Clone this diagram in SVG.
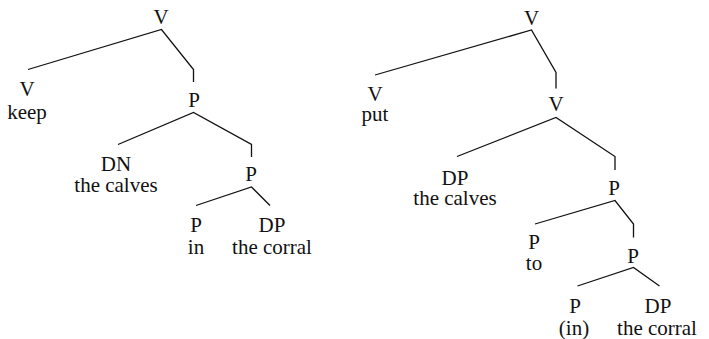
<svg xmlns="http://www.w3.org/2000/svg" width="709" height="339" viewBox="0 0 709 339">
<style>
.t text{font-family:'Liberation Serif','DejaVu Serif','Times New Roman',serif;font-size:21px;fill:#111;text-anchor:middle}
.e{fill:none;stroke:#111;stroke-width:1.3;stroke-linejoin:miter}
</style>
<rect width="709" height="339" fill="#fff"/>
<g id="connectors">
<polyline class="e" points="28,69.5 161.5,29.5 193.5,69.5 193.5,82"/>
<polyline class="e" points="118,144.5 193.5,112.5 251.5,144.5 251.5,157"/>
<polyline class="e" points="196,205.5 251.5,187 270,205.5"/>
<polyline class="e" points="375,75 531.5,30 556,72.5 556,88.5"/>
<polyline class="e" points="457,156.5 556,117.5 615,156.5 615,170"/>
<polyline class="e" points="535,224 615,200.5 633.5,224 633.5,237.5"/>
<polyline class="e" points="577.5,286 633.5,267.5 659.5,286"/>
</g>
<g class="t" font-family="Liberation Serif, DejaVu Serif, serif">
<g id="n1"><text x="161" y="24">V</text></g>
<g id="n2"><text x="27" y="96">V</text><text x="27" y="119">keep</text></g>
<g id="n3"><text x="194" y="107">P</text></g>
<g id="n4"><text x="116" y="171">DN</text><text x="116" y="192">the calves</text></g>
<g id="n5"><text x="251" y="181">P</text></g>
<g id="n6"><text x="196" y="232">P</text><text x="196" y="254">in</text></g>
<g id="n7"><text x="272" y="232">DP</text><text x="272" y="254">the corral</text></g>
<g id="m1"><text x="531.5" y="25">V</text></g>
<g id="m2"><text x="375" y="101">V</text><text x="375" y="121">put</text></g>
<g id="m3"><text x="556" y="111">V</text></g>
<g id="m4"><text x="455" y="185">DP</text><text x="455" y="205">the calves</text></g>
<g id="m5"><text x="614" y="195">P</text></g>
<g id="m6"><text x="534" y="249">P</text><text x="534" y="270">to</text></g>
<g id="m7"><text x="633" y="263">P</text></g>
<g id="m8"><text x="575" y="313">P</text><text x="574" y="335">(in)</text></g>
<g id="m9"><text x="658" y="313">DP</text><text x="657" y="335">the corral</text></g>
</g>
</svg>
